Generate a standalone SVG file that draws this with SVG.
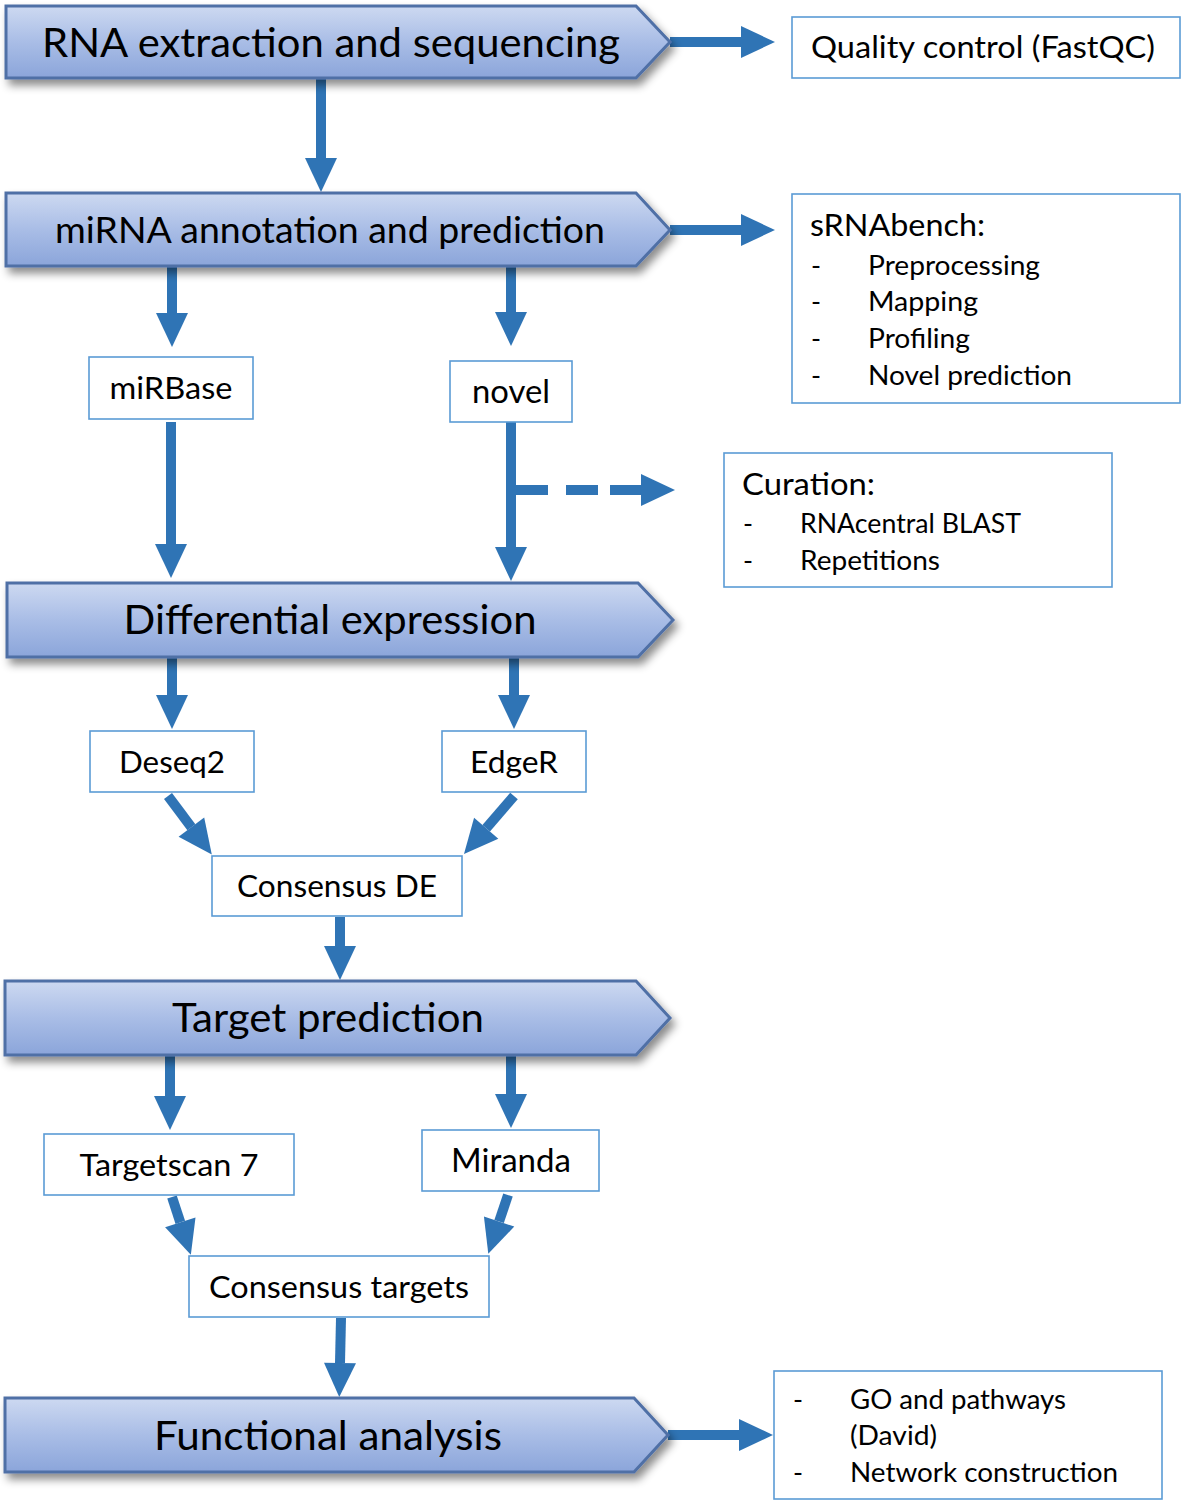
<svg xmlns="http://www.w3.org/2000/svg" width="1182" height="1501" viewBox="0 0 1182 1501">
<defs>
<linearGradient id="bg" x1="0" y1="0" x2="0" y2="1">
<stop offset="0" stop-color="#cdd9f1"/>
<stop offset="0.5" stop-color="#a9bde6"/>
<stop offset="1" stop-color="#8ba5da"/>
</linearGradient>
<filter id="sh" x="-5%" y="-20%" width="115%" height="160%">
<feDropShadow dx="4" dy="6" stdDeviation="4" flood-color="#000" flood-opacity="0.45"/>
</filter>
<marker id="ah" markerUnits="userSpaceOnUse" markerWidth="36" markerHeight="34" refX="0" refY="17" orient="auto" overflow="visible">
<path d="M0,1 L34,17 L0,33 z" fill="#2f74b5"/>
</marker>
</defs>
<style>
.banner{fill:url(#bg);stroke:#4f6fa6;stroke-width:3;filter:url(#sh)}
.bt{font-family:Lato,"Liberation Sans",sans-serif;font-size:40px;fill:#000;text-anchor:middle}
.box{fill:#fff;stroke:#5b9bd5;stroke-width:1.6}
.t{font-family:Lato,"Liberation Sans",sans-serif;font-size:30px;fill:#000}
.tc{text-anchor:middle}
.s{font-size:27px}
.ar{stroke:#2f74b5;stroke-width:10;fill:none;marker-end:url(#ah)}
</style>

<g id="connectors">
<line class="ar" x1="670" y1="42" x2="741" y2="42"/>
<line class="ar" x1="321" y1="79" x2="321" y2="158"/>
<line class="ar" x1="670" y1="230" x2="741" y2="230"/>
<line class="ar" x1="172" y1="266" x2="172" y2="313"/>
<line class="ar" x1="511" y1="264" x2="511" y2="312"/>
<line class="ar" x1="171" y1="422" x2="171" y2="544"/>
<line class="ar" x1="511" y1="419" x2="511" y2="547"/>
<path class="ar" d="M511 490 H548 M566 490 H598 M610 490 H641"/>
<line class="ar" x1="172" y1="657" x2="172" y2="695"/>
<line class="ar" x1="514" y1="657" x2="514" y2="695"/>
<line class="ar" x1="168" y1="796" x2="191.4" y2="827.2"/>
<line class="ar" x1="514" y1="796" x2="486.2" y2="828.2"/>
<line class="ar" x1="340" y1="917" x2="340" y2="946"/>
<line class="ar" x1="170" y1="1050" x2="170" y2="1096"/>
<line class="ar" x1="511" y1="1050" x2="511" y2="1094"/>
<line class="ar" x1="172" y1="1197" x2="180.3" y2="1222.4"/>
<line class="ar" x1="508" y1="1195" x2="499.1" y2="1221.5"/>
<line class="ar" x1="341" y1="1318" x2="340" y2="1363"/>
<line class="ar" x1="668" y1="1435" x2="739" y2="1435"/>
</g>

<g id="rna-extraction">
<polygon class="banner" points="6,6 636,6 670,42 636,78 6,78"/>
<text class="bt" x="331" y="57" textLength="578" lengthAdjust="spacingAndGlyphs">RNA extraction and sequencing</text>
</g>
<g id="mirna-annotation">
<polygon class="banner" points="6,193 636,193 670,230 636,266 6,266"/>
<text class="bt" x="330" y="243" font-size="36" style="font-size:36px" textLength="550" lengthAdjust="spacingAndGlyphs">miRNA annotation and prediction</text>
</g>
<g id="differential-expression">
<polygon class="banner" points="7,583 638,583 673,620 638,657 7,657"/>
<text class="bt" x="330" y="634" textLength="413" lengthAdjust="spacingAndGlyphs">Differential expression</text>
</g>
<g id="target-prediction">
<polygon class="banner" points="5,981 636,981 670,1018 636,1055 5,1055"/>
<text class="bt" x="328" y="1032" textLength="312" lengthAdjust="spacingAndGlyphs">Target prediction</text>
</g>
<g id="functional-analysis">
<polygon class="banner" points="5,1398 634,1398 668,1435 634,1472 5,1472"/>
<text class="bt" x="328" y="1450" textLength="348" lengthAdjust="spacingAndGlyphs">Functional analysis</text>
</g>

<g id="quality-control">
<rect class="box" x="792" y="17" width="388" height="61"/>
<text class="t" x="811" y="58" textLength="344" lengthAdjust="spacingAndGlyphs">Quality control (FastQC)</text>
</g>
<g id="srnabench">
<rect class="box" x="792" y="194" width="388" height="209"/>
<text class="t" x="810" y="236" textLength="175" lengthAdjust="spacingAndGlyphs">sRNAbench:</text>
<text class="t s" x="811" y="275">-</text>
<text class="t s" x="868" y="275" textLength="172" lengthAdjust="spacingAndGlyphs">Preprocessing</text>
<text class="t s" x="811" y="311">-</text>
<text class="t s" x="868" y="311" textLength="110" lengthAdjust="spacingAndGlyphs">Mapping</text>
<text class="t s" x="811" y="348">-</text>
<text class="t s" x="868" y="348" textLength="102" lengthAdjust="spacingAndGlyphs">Profiling</text>
<text class="t s" x="811" y="385">-</text>
<text class="t s" x="868" y="385" textLength="204" lengthAdjust="spacingAndGlyphs">Novel prediction</text>
</g>
<g id="curation">
<rect class="box" x="724" y="453" width="388" height="134"/>
<text class="t" x="742" y="495" textLength="133" lengthAdjust="spacingAndGlyphs">Curation:</text>
<text class="t s" x="743" y="533">-</text>
<text class="t s" x="800" y="533" textLength="221" lengthAdjust="spacingAndGlyphs">RNAcentral BLAST</text>
<text class="t s" x="743" y="570">-</text>
<text class="t s" x="800" y="570" textLength="140" lengthAdjust="spacingAndGlyphs">Repetitions</text>
</g>
<g id="mirbase">
<rect class="box" x="89" y="357" width="164" height="62"/>
<text class="t tc" x="171" y="399" textLength="123" lengthAdjust="spacingAndGlyphs">miRBase</text>
</g>
<g id="novel">
<rect class="box" x="450" y="361" width="122" height="61"/>
<text class="t tc" x="511" y="403" style="font-size:32px" textLength="78" lengthAdjust="spacingAndGlyphs">novel</text>
</g>
<g id="deseq2">
<rect class="box" x="90" y="731" width="164" height="61"/>
<text class="t tc" x="172" y="773" textLength="106" lengthAdjust="spacingAndGlyphs">Deseq2</text>
</g>
<g id="edger">
<rect class="box" x="442" y="731" width="144" height="61"/>
<text class="t tc" x="514" y="773" textLength="88" lengthAdjust="spacingAndGlyphs">EdgeR</text>
</g>
<g id="consensus-de">
<rect class="box" x="212" y="856" width="250" height="60"/>
<text class="t tc" x="337" y="897" textLength="200" lengthAdjust="spacingAndGlyphs">Consensus DE</text>
</g>
<g id="targetscan">
<rect class="box" x="44" y="1134" width="250" height="61"/>
<text class="t tc" x="169" y="1176" textLength="179" lengthAdjust="spacingAndGlyphs">Targetscan 7</text>
</g>
<g id="miranda">
<rect class="box" x="422" y="1130" width="177" height="61"/>
<text class="t tc" x="511" y="1172" style="font-size:32px" textLength="120" lengthAdjust="spacingAndGlyphs">Miranda</text>
</g>
<g id="consensus-targets">
<rect class="box" x="189" y="1256" width="300" height="61"/>
<text class="t tc" x="339" y="1298" textLength="260" lengthAdjust="spacingAndGlyphs">Consensus targets</text>
</g>
<g id="go-network">
<rect class="box" x="774" y="1371" width="388" height="128"/>
<text class="t s" x="793" y="1409">-</text>
<text class="t s" x="850" y="1409" textLength="216" lengthAdjust="spacingAndGlyphs">GO and pathways</text>
<text class="t s" x="850" y="1445" textLength="87" lengthAdjust="spacingAndGlyphs">(David)</text>
<text class="t s" x="793" y="1482">-</text>
<text class="t s" x="850" y="1482" textLength="268" lengthAdjust="spacingAndGlyphs">Network construction</text>
</g>
</svg>
